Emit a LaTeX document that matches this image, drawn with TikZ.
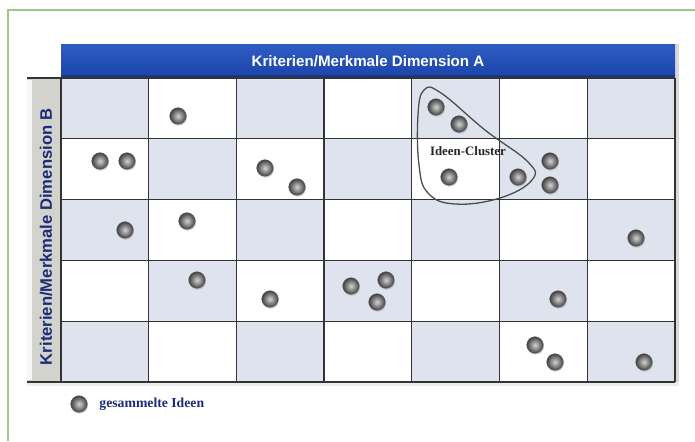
\documentclass[tikz,border=0pt]{standalone}
\usepackage{fontspec}
\setmainfont{Liberation Sans}
\newfontfamily\ideafont{Liberation Serif}
\usetikzlibrary{shadows,positioning}
\definecolor{barblue}{HTML}{1A44A8}
\definecolor{barbluetop}{HTML}{2F5CC4}
\definecolor{cellblue}{HTML}{DFE3EE}
\definecolor{framegreen}{HTML}{9CCB84}
\definecolor{labelblue}{HTML}{1E2C78}
\definecolor{sidegray}{HTML}{D3D3CD}
\tikzset{
  idea/.style={circle, minimum size=0.5cm, inner sep=0pt, shading=radial, inner color=gray!35, outer color=black!75, draw=black!60, line width=0.3pt, drop shadow={shadow xshift=0.6pt, shadow yshift=-1.2pt, opacity=0.35}},
  gridline/.style={draw=black!80, line width=1.1pt},
}
\begin{document}
\begin{tikzpicture}[x=0.03cm, y=-0.03cm]
            \useasboundingbox (0,0) rectangle (695,441);
            \draw[framegreen, line width=0.9pt] (695,10) -- (8,10) -- (8,441);
            \fill[gray!30] (675,44) rectangle (679,384);
            \fill[gray!15] (27,382) rectangle (679,386);
            \shade[top color=barbluetop, bottom color=barblue] (61,44) rectangle (675,78);
            \fill[barblue!80!black] (61,75) rectangle (675,78);
            \node[text=white, font=\bfseries\fontsize{12.9}{15}\selectfont] (dimA) at (368,61) {Kriterien/Merkmale Dimension A};
            \fill[sidegray] (27,78) rectangle (61,382);
            \fill[white!70!cellblue] (27,80) rectangle (32,380);
            \node[rotate=90, text=labelblue, font=\bfseries\fontsize{14.2}{16}\selectfont] (dimB) at (46,237) {Kriterien/Merkmale Dimension B};
            \foreach \c in {0,2,4,6} \foreach \r in {0,2,4} \fill[cellblue] (61+\c*87.71,78+\r*60.8) rectangle ++(87.71,60.8);
            \foreach \c in {1,3,5} \foreach \r in {1,3} \fill[cellblue] (61+\c*87.71,78+\r*60.8) rectangle ++(87.71,60.8);
            \draw[gridline] (27,78) -- (675,78);
            \draw[gridline] (27,382) -- (675,382);
            \foreach \r in {1,...,4} \draw[gridline] (61,78+\r*60.8) -- (675,78+\r*60.8);
            \foreach \c in {0,...,7} \draw[gridline] (61+\c*87.71,78) -- (61+\c*87.71,382);
            \draw[black!70, line width=1.1pt] plot[smooth cycle, tension=0.7] coordinates {(424,90) (441,93) (485,130) (528,162) (532,180) (500,198) (455,204) (428,193) (419,165) (418,115)};
            \node[font=\ideafont\bfseries\fontsize{11}{13}\selectfont, text=black!85] (clusterlabel) at (468,151) {Ideen-Cluster};
            \foreach \x/\y [count=\i] in {178/116, 436/107, 459/124, 100/161, 127/161, 265/168, 297/187, 449/177, 518/177, 550/161, 550/185, 125/230, 187/221, 636/238, 197/280, 270/299, 351/286, 386/280, 377/302, 558/299, 535/345, 555/362, 644/362}
                \node[idea] (b\i) at (\x,\y) {};
            \node[idea] (legendball) at (79,404) {};
            \node[right=10pt of legendball, inner sep=0pt, text=labelblue, font=\ideafont\bfseries\fontsize{11.7}{14}\selectfont] (legendtext) {gesammelte Ideen};
        \end{tikzpicture}
\end{document}
